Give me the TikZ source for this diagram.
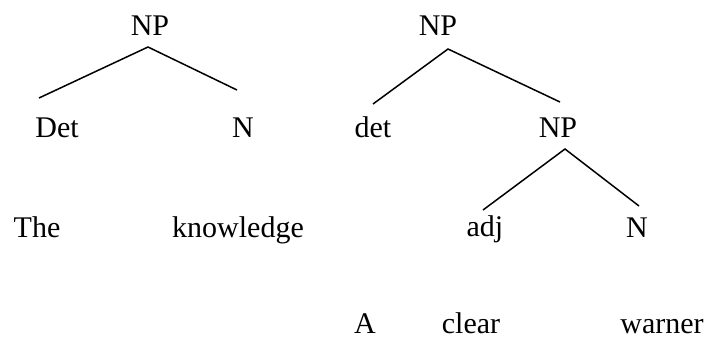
\documentclass[tikz,border=0pt]{standalone}
\usepackage{fontspec}
\setmainfont{Liberation Serif}
\usetikzlibrary{calc}
\begin{document}
\begin{tikzpicture}[x=1pt,y=-1pt,
  lbl/.style={anchor=base,inner sep=0pt,font=\fontsize{30}{32}\selectfont},
  low/.style={lbl,text depth=0pt},
  edge/.style={line width=1.5pt,line cap=butt}]
\useasboundingbox (0,0) rectangle (710,341);
% left tree
\node[lbl] (np1) at (150,35) {NP};
\node[lbl] (det1) at (57,137) {Det};
\node[lbl] (n1) at (243,137) {N};
\node[lbl] (the) at (37,237) {The};
\node[lbl] (know) at (238,237) {knowledge};
\draw[edge] ($(det1.base)+(-18,-39)$) -- ($(np1.base)+(-2,12)$) -- ($(n1.base)+(-6,-47)$);
% right tree
\node[lbl] (np2) at (438,35) {NP};
\node[lbl] (det2) at (373,137) {det};
\node[lbl] (np3) at (558,137) {NP};
\node[lbl] (adj) at (485,236) {adj};
\node[lbl] (n2) at (637,237) {N};
\node[low] (a) at (365,333) {A};
\node[low] (clear) at (471,333) {clear};
\node[low] (warner) at (662,333) {warner};
\draw[edge] ($(det2.base)+(0,-33)$) -- ($(np2.base)+(10,14)$) -- ($(np3.base)+(2,-35)$);
\draw[edge] ($(adj.base)+(-2,-26)$) -- ($(np3.base)+(7,12)$) -- ($(n2.base)+(2,-31)$);
\end{tikzpicture}
\end{document}
